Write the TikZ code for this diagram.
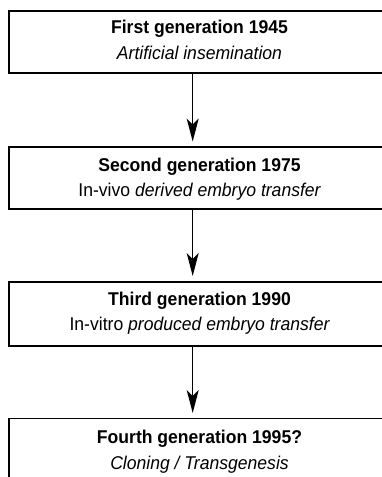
\documentclass[tikz,border=0pt]{standalone}
\usepackage{fontspec}
\setmainfont{Liberation Sans}[FakeStretch=0.95]
\usetikzlibrary{arrows.meta}
\tikzset{
  genbox/.style={draw=black, line width=1.4pt, rectangle, minimum width=381pt, inner sep=0pt},
  title/.style={anchor=base, inner sep=0pt, font=\fontsize{18.5}{20}\selectfont\bfseries},
  sub/.style={anchor=base, inner sep=0pt, font=\fontsize{18.5}{20}\selectfont},
  arr/.style={line width=1.2pt, -{Stealth[length=23pt,width=12pt,inset=6pt]}}
}
\begin{document}
\begin{tikzpicture}[x=1pt,y=-1pt]
\useasboundingbox (0,0) rectangle (382,477);
\clip (0,0) rectangle (382,477);
% boxes
\node[genbox, minimum height=62pt] (b1) at (199.5,42) {};
\node[genbox, minimum height=62pt] (b2) at (199.5,178) {};
\node[genbox, minimum height=64pt] (b3) at (199.5,314) {};
\node[genbox, minimum height=80pt] (b4) at (199.5,458.7) {};
% texts
\node[title] (t1) at (199.5,33.5) {First generation 1945};
\node[sub] (s1) at (199.5,59) {\itshape Artificial insemination};
\node[title] (t2) at (199.5,171.5) {Second generation 1975};
\node[sub] (s2) at (199.5,196.7) {In-vivo \itshape derived embryo transfer};
\node[title] (t3) at (199.5,305) {Third generation 1990};
\node[sub] (s3) at (199.5,330) {In-vitro \itshape produced embryo transfer};
\node[title] (t4) at (199.5,443) {Fourth generation 1995?};
\node[sub] (s4) at (199.5,469) {\itshape Cloning / Transgenesis};
% arrow tips
\coordinate (p2) at (192.7,141.5);
\coordinate (p3) at (192.7,276);
\coordinate (p4) at (192.7,413);
\draw[arr] (b1.south -| p2) -- (p2);
\draw[arr] (b2.south -| p3) -- (p3);
\draw[arr] (b3.south -| p4) -- (p4);
\end{tikzpicture}
\end{document}
